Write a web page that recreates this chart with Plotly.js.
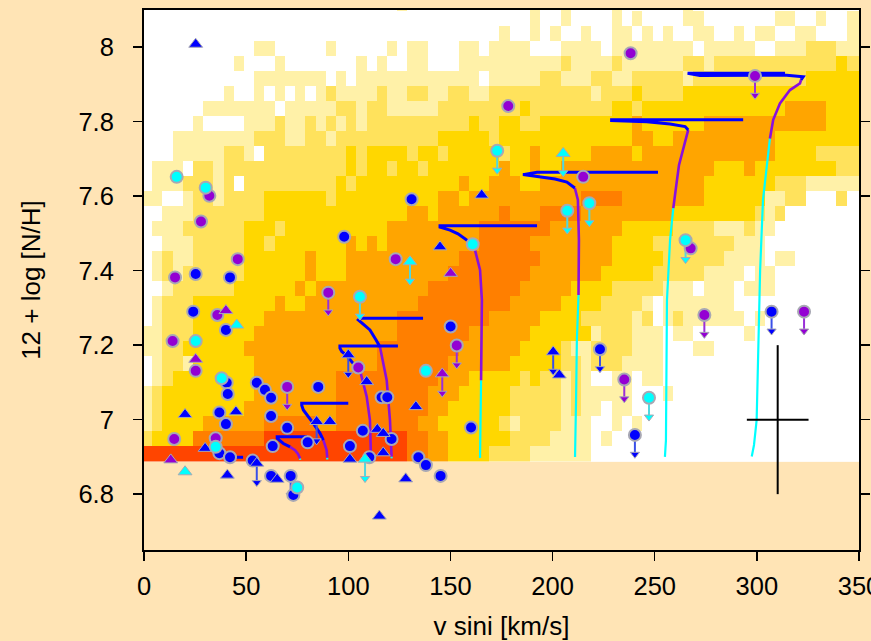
<!DOCTYPE html>
<html>
<head>
<meta charset="utf-8">
<script src="https://cdn.plot.ly/plotly-3.0.1.min.js"></script>
<style>
html,body{margin:0;padding:0;background:#FFE4B5;}
#chart{width:871px;height:641px;}
</style>
</head>
<body>
<div id="chart"></div>
<script>
// ---------- axis ticks ----------
const xTickVals = [0, 50, 100, 150, 200, 250, 300, 350];
const yTickVals = [6.8, 7.0, 7.2, 7.4, 7.6, 7.8, 8.0];
const yTickText = ['6.8', '7', '7.2', '7.4', '7.6', '7.8', '8'];

// ---------- density histogram (level per bin, run-length "level:count", bottom row first) ----------
const binV0 = -1, binVW = 5;          // v sini bin edges (km/s)
const binN0 = 6.887, binNH = 0.0403;  // N/H bin edges
const densityRuns = [
  "6:26 5:2 4:2 3:4 2:4 1:6 0:27",
  "2:1 3:4 5:7 6:14 5:2 4:2 3:6 2:4 1:4 0:1 1:1 0:25",
  "1:1 2:1 3:4 4:6 5:5 4:2 5:8 4:2 3:6 2:1 1:1 2:4 1:3 0:2 1:1 0:1 1:1 0:22",
  "1:1 2:1 3:8 4:9 5:9 4:2 3:6 2:5 1:1 2:1 1:2 0:1 1:2 0:23",
  "1:1 2:1 3:9 4:8 5:9 4:3 3:5 2:5 1:1 2:1 1:5 0:3 1:1 0:19",
  "0:1 1:1 2:1 3:8 4:8 5:10 4:3 3:5 2:1 3:1 2:2 1:1 2:1 1:1 0:2 1:2 0:1 1:2 0:20",
  "0:1 1:1 2:2 1:1 3:6 4:12 5:7 4:6 3:5 2:2 1:1 2:3 1:4 0:20",
  "1:2 2:2 3:6 4:13 5:8 4:6 3:4 2:1 1:2 2:4 1:3 0:3 1:2 0:15",
  "1:2 2:3 3:6 4:14 5:7 4:6 3:6 1:1 2:3 1:3 0:1 1:2 0:5 1:1 0:11",
  "0:1 1:1 2:3 3:7 4:13 5:9 4:5 3:4 2:5 1:1 2:1 0:1 1:1 2:1 1:6 0:1 1:1 0:10",
  "0:1 1:1 2:3 3:8 4:1 3:2 4:11 5:9 4:5 3:4 2:4 1:1 0:1 1:7 0:13",
  "0:2 1:1 2:6 3:6 4:1 3:1 4:11 5:9 4:5 3:4 2:5 1:3 0:1 1:3 0:1 1:3 0:9",
  "0:1 1:1 2:1 1:1 2:6 3:6 4:1 3:3 4:10 5:8 4:7 3:5 2:5 1:4 0:1 1:2 0:9",
  "0:1 1:1 2:1 1:2 2:5 3:6 4:1 3:3 4:11 5:8 4:7 3:5 2:6 1:4 0:1 1:2 0:7",
  "0:2 1:3 2:5 3:2 2:1 3:7 4:1 3:1 4:1 3:1 4:9 5:5 4:8 3:4 2:8 1:3 0:10",
  "0:1 1:3 2:6 3:3 2:1 3:10 4:9 5:7 4:7 3:5 2:4 1:3 2:1 1:2 0:9",
  "0:2 1:3 2:7 3:14 4:2 3:1 4:6 5:1 4:3 5:4 4:9 3:8 2:1 1:1 2:1 0:8",
  "1:2 0:2 1:1 2:2 1:1 2:4 3:6 2:1 3:10 4:2 3:1 4:11 5:4 4:8 3:6 1:2 2:2 0:3 2:1 0:2",
  "0:1 1:3 2:3 1:1 2:1 0:1 2:9 3:1 2:1 3:10 4:1 3:2 4:3 3:2 4:16 3:7 2:3 1:6",
  "0:1 1:3 0:1 2:2 1:1 2:12 3:1 2:1 3:2 2:1 3:2 2:1 3:7 4:1 3:2 4:1 3:2 4:15 3:3 4:1 3:8 2:3",
  "0:3 1:5 2:2 1:1 0:1 2:8 3:1 2:1 3:4 2:1 3:2 2:1 3:5 2:1 3:2 4:1 3:5 4:4 3:1 4:13 3:4 2:5",
  "0:3 1:8 2:3 1:2 2:2 1:1 2:10 3:5 2:1 3:13 4:2 3:2 4:10 3:9",
  "0:5 1:1 0:4 1:3 2:1 1:2 2:1 1:1 2:1 1:1 2:1 1:1 2:10 3:1 2:2 3:2 2:2 3:9 4:1 3:6 4:12 3:4",
  "0:6 1:7 0:1 1:5 2:2 1:1 2:2 1:5 2:8 3:1 2:8 3:2 2:1 3:14 4:4 3:4",
  "0:8 1:1 0:2 1:1 0:1 1:1 0:1 1:1 0:1 1:1 2:1 1:4 2:1 1:2 2:2 1:2 2:2 1:2 2:10 1:1 2:3 3:1 2:4 3:18",
  "0:11 1:7 0:1 1:1 0:1 1:12 0:1 1:5 2:2 1:3 2:2 1:2 2:5 1:1 2:11 3:6",
  "0:9 1:1 0:3 1:1 0:7 1:1 0:1 1:1 0:2 1:2 0:3 1:10 2:1 1:4 2:1 1:6 2:2 1:1 2:12 3:1 2:2",
  "0:11 1:2 0:5 1:1 0:5 1:1 0:1 1:2 0:3 1:2 0:1 1:4 0:3 1:4 0:1 1:8 0:1 1:5 0:2 1:3 2:3 1:3",
  "0:35 1:1 0:2 1:1 0:1 1:1 0:2 1:1 0:2 1:2 0:1 1:1 0:1 1:1 0:2 1:2 0:2 1:1 0:1 1:2 0:2 1:2 0:3 1:2",
  "0:38 1:1 0:2 1:1 0:4 1:1 0:1 1:1 0:4 1:2 0:7 1:2 0:2 1:1 0:2 1:2",
  "0:25 1:1 0:12 1:1 0:2 1:1 0:4 1:1 0:6 1:1 0:17"
];
const levelColors = ['#FFFFFF', '#FFF1A8', '#FFE25C', '#FFD700', '#FFA500', '#FF7F00', '#FF4500'];

// ---------- evolutionary tracks (v sini, 12+log N/H), segments separated by null ----------
const trackBlueV = [45.0,48.5,null, 79.8,65.2,65.2,68.2,71.5,null, 100.0,77.2,77.2,78.0,82.9,86.1,87.8,null,
  124.3,95.9,95.9,96.8,99.4,102.4,105.7,null, 136.6,105.7,104.9,108.2,110.6,113.6,115.5,null,
  192.4,144.9,144.9,149.8,153.7,158.0,162.0,null, 251.6,192.4,185.5,193.8,201.2,207.0,210.9,null,
  293.3,228.9,228.9,246.1,257.5,264.9,266.4,null, 313.8,266.1,272.1,314.6,322.7,321.6];
const trackBlueN = [6.899,6.899,null, 6.954,6.954,6.950,6.936,6.927,null, 7.044,7.044,7.039,7.026,6.990,6.964,6.945,null,
  7.198,7.198,7.192,7.183,7.171,7.151,7.133,null, 7.272,7.272,7.268,7.251,7.241,7.214,7.196,null,
  7.521,7.521,7.517,7.509,7.499,7.482,7.456,null, 7.664,7.664,7.658,7.652,7.646,7.638,7.622,null,
  7.805,7.805,7.803,7.800,7.794,7.787,7.778,null, 7.930,7.930,7.924,7.925,7.921,7.912];
const trackPurpleV = [71.5,73.9,75.4,76.4,null, 87.8,89.4,89.7,null, 105.7,109.0,110.6,111.1,null,
  115.5,117.1,118.8,120.4,121.2,null, 162.0,164.5,165.4,165.2,165.0,null, 210.9,212.4,212.9,212.7,null,
  266.4,265.3,264.0,261.9,260.7,259.1,null, 321.6,321.1,316.2,311.3,308.0,306.4];
const trackPurpleN = [6.927,6.918,6.908,6.896,null, 6.945,6.918,6.898,null, 7.133,7.062,6.999,6.901,null,
  7.196,7.151,7.106,6.999,6.901,null, 7.456,7.402,7.321,7.214,7.106,null, 7.622,7.590,7.482,7.335,null,
  7.778,7.756,7.733,7.684,7.635,7.568,null, 7.912,7.903,7.885,7.849,7.805,7.755];
const trackCyanV = [76.4,76.4,null, 89.7,89.7,null, 111.1,111.1,null, 121.2,121.2,null,
  165.0,164.7,164.5,164.5,null, 212.7,211.9,211.5,211.2,211.0,null,
  259.1,257.5,256.0,255.7,255.5,255.0,null, 306.4,303.0,301.6,300.7,299.9,298.6,297.5];
const trackCyanN = [6.896,6.892,null, 6.898,6.893,null, 6.901,6.896,null, 6.901,6.896,null,
  7.106,6.999,6.918,6.897,null, 7.335,7.214,7.053,6.945,6.900,null,
  7.568,7.482,7.321,7.106,6.945,6.900,null, 7.755,7.590,7.402,7.223,6.999,6.932,6.901];

// ---------- stars ----------
const blueCircV = [25.3,42.1,24.1,40.1,40.5,41.0,55.2,59.2,62.2,85.3,36.9,62.2,40.1,70.1,36.9,42.1,63.0,80.1,100.8,116.3,
  119.1,107.1,121.2,110.3,150.1,160.1,134.3,138.0,145.2,53.2,62.2,73.1,98.0,131.0];
const blueCircN = [7.391,7.382,7.290,7.241,7.099,7.069,7.099,7.080,7.059,7.088,7.019,7.010,6.988,6.978,6.910,6.899,6.929,6.939,6.929,7.060,
  7.060,6.970,6.948,6.899,7.250,6.979,6.899,6.878,6.849,6.890,6.849,6.798,7.491,7.592];
const blueCircLimV = [71.8, 223.2, 240.3, 307.2];
const blueCircLimN = [6.849, 7.189, 6.959, 7.290];
const blueTriV = [25.3,20.1,45.0,29.9,91.0,100.8,109.0,114.2,117.1,117.1,133.1,128.1,115.2,65.2,40.8,144.9,165.3,203.3];
const blueTriN = [8.008,7.014,7.021,6.923,6.995,6.894,7.102,6.974,6.963,6.911,7.035,6.841,6.741,6.840,6.851,7.464,7.603,7.120];
const blueTriLimV = [84.5, 100.0, 55.2, 200.3];
const blueTriLimN = [6.995, 7.174, 6.883, 7.182];

const purpleCircV = [15.2,35.9,14.0,25.3,14.8,35.1,104.9,123.2,45.9,27.9,32.0,238.2,178.3,215.0,267.6];
const purpleCircN = [7.382,7.281,7.211,7.131,6.948,6.950,7.140,7.431,7.431,7.532,7.601,7.984,7.842,7.652,7.460];
const purpleCircLimV = [70.1, 90.2, 153.1, 235.1, 274.3, 323.1, 299.1];
const purpleCircLimN = [7.088, 7.341, 7.199, 7.108, 7.281, 7.290, 7.923];
const purpleTriV = [40.1, 25.3, 13.1, 150.1];
const purpleTriN = [7.293, 7.162, 6.892, 7.393];
const purpleTriLimV = [146.0];
const purpleTriLimN = [7.123];

const cyanCircV = [16.0, 30.2, 25.3, 38.0, 35.1, 75.0, 138.0, 160.9];
const cyanCircN = [7.652, 7.623, 7.211, 7.111, 6.927, 6.818, 7.131, 7.471];
const cyanCircLimV = [105.7, 172.9, 207.2, 218.0, 265.1, 247.2];
const cyanCircLimN = [7.330, 7.722, 7.561, 7.581, 7.482, 7.059];
const cyanTriV = [45.4, 20.1];
const cyanTriN = [7.254, 6.860];
const cyanTriLimV = [130.2, 205.2, 108.2];
const cyanTriLimN = [7.424, 7.715, 6.894];

// typical error bar
const errV = [310.2], errN = [7.0], errDV = [15.1], errDN = [0.2];

// ---------- build ----------
function decodeRow(s) {
  const out = [];
  s.trim().split(/\s+/).forEach(t => {
    const p = t.split(':').map(Number);
    for (let i = 0; i < p[1]; i++) out.push(p[0]);
  });
  return out;
}
const zLevels = densityRuns.map(decodeRow);
const nCols = Math.max(...zLevels.map(r => r.length));
zLevels.forEach(r => { while (r.length < nCols) r.push(0); });
const xCenters = Array.from({length: nCols}, (_, k) => binV0 + binVW * (k + 0.5));
const yCenters = zLevels.map((_, j) => binN0 + binNH * (j + 0.5));
const cscale = [];
levelColors.forEach((c, i) => { cscale.push([i / levelColors.length, c]); cscale.push([(i + 1) / levelColors.length, c]); });

const ARROW = 0.052;
const GRAY = '#A8A8B4';
function arrowTraces(vs, ns, lineColor, headColor) {
  const lx = [], ly = [], hx = [], hy = [];
  vs.forEach((v, i) => { lx.push(v, v, null); ly.push(ns[i], ns[i] - ARROW, null); hx.push(v); hy.push(ns[i] - ARROW); });
  return [
    {type:'scatter', mode:'lines', x:lx, y:ly, line:{color:lineColor, width:2}, hoverinfo:'skip'},
    {type:'scatter', mode:'markers', x:hx, y:hy, marker:{symbol:'triangle-down', size:8, color:headColor, line:{color:GRAY, width:1}}, hoverinfo:'skip'}
  ];
}
function pts(vs, ns, sym, color) {
  const isTri = sym.indexOf('triangle') === 0;
  return {type:'scatter', mode:'markers', x:vs, y:ns, hoverinfo:'skip',
    marker:{symbol:sym, size:12, color:color, line:{color:GRAY, width:isTri ? 1 : 2}}};
}
const BLUE = '#0000FF', PURPLE = '#9400D3', CYAN = '#00FFFF';

const traces = [
  {type:'heatmap', x:xCenters, y:yCenters, z:zLevels, colorscale:cscale, zmin:-0.5, zmax:6.5,
   showscale:false, hoverinfo:'skip', zsmooth:false},
  {type:'scatter', mode:'lines', x:trackCyanV, y:trackCyanN, line:{color:'#00FFFF', width:2.2}, hoverinfo:'skip', connectgaps:false},
  {type:'scatter', mode:'lines', x:trackPurpleV, y:trackPurpleN, line:{color:'#8A10DD', width:2.6}, hoverinfo:'skip', connectgaps:false},
  {type:'scatter', mode:'lines', x:trackBlueV, y:trackBlueN, line:{color:'#0000FF', width:3}, hoverinfo:'skip', connectgaps:false},
  ...arrowTraces(blueCircLimV.concat(blueTriLimV), blueCircLimN.concat(blueTriLimN), '#3A50E8', BLUE),
  ...arrowTraces(purpleCircLimV.concat(purpleTriLimV), purpleCircLimN.concat(purpleTriLimN), '#9A30D8', PURPLE),
  ...arrowTraces(cyanCircLimV.concat(cyanTriLimV), cyanCircLimN.concat(cyanTriLimN), '#50D8E0', CYAN),
  pts(blueCircV.concat(blueCircLimV), blueCircN.concat(blueCircLimN), 'circle', BLUE),
  pts(blueTriV.concat(blueTriLimV), blueTriN.concat(blueTriLimN), 'triangle-up', BLUE),
  pts(purpleCircV.concat(purpleCircLimV), purpleCircN.concat(purpleCircLimN), 'circle', PURPLE),
  pts(purpleTriV.concat(purpleTriLimV), purpleTriN.concat(purpleTriLimN), 'triangle-up', PURPLE),
  pts(cyanCircV.concat(cyanCircLimV), cyanCircN.concat(cyanCircLimN), 'circle', CYAN),
  pts(cyanTriV.concat(cyanTriLimV), cyanTriN.concat(cyanTriLimN), 'triangle-up', CYAN),
  {type:'scatter', mode:'markers', x:errV, y:errN, marker:{size:1, color:'rgba(0,0,0,0)'}, hoverinfo:'skip',
   error_x:{type:'data', array:errDV, visible:true, color:'#000', thickness:2, width:0},
   error_y:{type:'data', array:errDN, visible:true, color:'#000', thickness:2, width:0}}
];

const FONT = 'Liberation Sans, Arial, Helvetica, sans-serif';
const layout = {
  width: 871, height: 641,
  margin: {l:144, r:12, t:10, b:91, pad:0},
  paper_bgcolor: '#FFE4B5',
  plot_bgcolor: '#FFFFFF',
  showlegend: false,
  font: {family: FONT, color: '#000'},
  xaxis: {
    range: [0, 350], tickmode:'array', tickvals: xTickVals, ticks:'outside', ticklen:9, tickwidth:1.5, tickcolor:'#000',
    showline:true, linecolor:'#000', linewidth:2, mirror:true, showgrid:false, zeroline:false,
    tickfont:{size:25.5, family:FONT, color:'#000'}, ticklabelstandoff:3, ticklabeloverflow:'allow',
    title:{text:'v sini [km/s]', font:{size:26, family:FONT, color:'#000'}, standoff:38}
  },
  yaxis: {
    range: [6.65, 8.1], tickmode:'array', tickvals: yTickVals, ticktext: yTickText, ticks:'outside', ticklen:9, tickwidth:1.5, tickcolor:'#000',
    showline:true, linecolor:'#000', linewidth:2, mirror:'ticks', showgrid:false, zeroline:false,
    tickfont:{size:25.5, family:FONT, color:'#000'}, ticklabelstandoff:14,
    title:{text:'12 + log [N/H]', font:{size:26, family:FONT, color:'#000'}, standoff:30}
  },
  shapes: [
    {type:'rect', xref:'x', yref:'y', x0:0, x1:350, y0:6.65, y1:binN0, fillcolor:'#FFE4B5', line:{width:0}, layer:'below'}
  ]
};

Plotly.newPlot('chart', traces, layout, {staticPlot:true, displayModeBar:false});
</script>
</body>
</html>
